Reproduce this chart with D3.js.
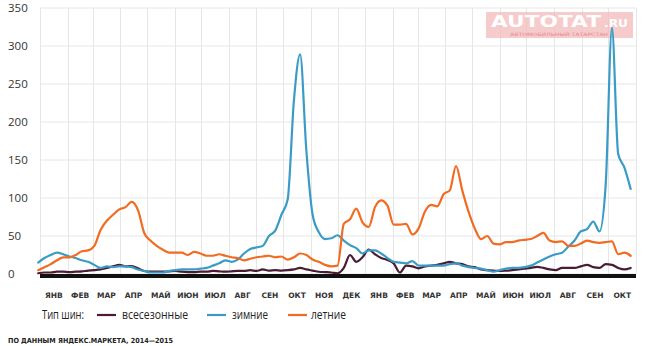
<!DOCTYPE html>
<html><head><meta charset="utf-8">
<script src="https://cdn.jsdelivr.net/npm/d3@7"></script>
<style>
html,body{margin:0;padding:0;background:#fff;}
svg{display:block;}
</style></head>
<body>
<svg id="chart" width="646" height="346"></svg>
<script>
// ---------- data ----------
const monthLabels = ["ЯНВ","ФЕВ","МАР","АПР","МАЙ","ИЮН","ИЮЛ","АВГ","СЕН","ОКТ","НОЯ","ДЕК",
                     "ЯНВ","ФЕВ","МАР","АПР","МАЙ","ИЮН","ИЮЛ","АВГ","СЕН","ОКТ"];
const yTicks = [0,50,100,150,200,250,300,350];
const seriesNames = ["всесезонные","зимние","летние"];
const seriesColors = ["#4b1a33","#3a9cc6","#f26b21"];
const firstWeek = new Date(2013, 11, 30);
const weekCount = 96;

const allSeason = [1,2,2,3,3,2.5,3,3.5,4.4,5,6,8,10,12,10,10.5,7.5,4,3,3,
  3,3.5,4,3,2.5,2.5,3,3,4,3.5,3,3.5,4,4,5,4,6,4.5,5,4.5,
  5,6,8,6,4.5,3,2.5,2,1,8,25,16,22,32,26,21,18.5,14,2,11,
  10,7.5,10,11,12,14,16,14,13,10,9,6,5,4.4,4,4.4,5,6,7,8,
  9.5,8,6,5,8,8,8,10,12,9,8,13,12,8,6,8];
const winter = [15,21,25,28,26,23,21,18,16,12,8,10,9,10,10,9,6,4,2,2,
  2,4,5,6,6,6,7,8,11,14,18,16,19,27,33,35,37,50,57,78,
  98,228,289,162,78,55,46,47,51,44,38,34,27,31,31,27,21,16,15,14,
  17,11,11,11,11,11,13,14,11,9,8,7,5,3,5,7,8,8,9,11,
  15,19,23,26,28,36,44,56,59,69,56,118,324,158,140,112];
const summer = [5,9,13,18,22,22,25,30,31,37,58,70,78,85,88,95,84,54,44,37,
  32,28,28,28,25,29,27,24,24,26,24,22,21,18,20,22,23,24,22,23,
  19,22,27,25,19,16,12,10,11,66,72,86,68,62,88,97,90,65,65,66,
  52,60,82,91,89,105,110,142,110,82,60,46,50,40,39,42,42,44,45,46,
  50,54,44,42,43,37,37,40,44,42,41,42,43,26,28,24];
const seriesValues = [allSeason, winter, summer];

// ---------- setup ----------
const svg = d3.select("#chart");
const x0 = 40, x1 = 636, yTop = 8, yBot = 274;
const dates = d3.range(weekCount).map(i => d3.timeDay.offset(firstWeek, 7 * i));
const x = d3.scaleTime().domain([new Date(2014,0,1), new Date(2015,10,1)]).range([x0, x1]);
const y = d3.scaleLinear().domain([0, 350]).range([yBot, yTop]);
const monthStarts = d3.timeMonth.range(new Date(2014,0,1), new Date(2015,10,2));

// grid
const grid = svg.append("g");
grid.selectAll("line.h").data(yTicks).join("line")
  .attr("x1", x0).attr("x2", x1)
  .attr("y1", d => y(d)).attr("y2", d => y(d))
  .attr("stroke", "#e6e6e6").attr("stroke-width", 1);
grid.selectAll("line.v").data(monthStarts).join("line")
  .attr("x1", d => Math.round(x(d)) + 0.5).attr("x2", d => Math.round(x(d)) + 0.5)
  .attr("y1", yTop).attr("y2", yBot)
  .attr("stroke", "#e6e6e6").attr("stroke-width", 1);

// y labels
svg.append("g").selectAll("text").data(yTicks).join("text")
  .attr("x", 8).attr("y", d => y(d) + 1)
  .attr("dominant-baseline", "middle")
  .attr("font-family", "'Open Sans', 'DejaVu Sans', sans-serif")
  .attr("font-size", 11.5).attr("fill", "#333")
  .text(d => d);

// watermark
const wm = svg.append("g");
wm.append("rect").attr("x", 486).attr("y", 12).attr("width", 147).attr("height", 26)
  .attr("fill", "#f3b9b9").attr("opacity", 0.75);
wm.append("text").attr("x", 491).attr("y", 27)
  .attr("font-family", "'DejaVu Sans', sans-serif").attr("font-weight", "bold")
  .attr("font-size", 15).attr("fill", "#fff")
  .attr("textLength", 110).attr("lengthAdjust", "spacingAndGlyphs")
  .text("AUTOTAT");
wm.append("text").attr("x", 604).attr("y", 27)
  .attr("font-family", "'DejaVu Sans', sans-serif").attr("font-weight", "bold")
  .attr("font-size", 10).attr("fill", "#fff")
  .attr("textLength", 24).attr("lengthAdjust", "spacingAndGlyphs")
  .text(".RU");
wm.append("text").attr("x", 559).attr("y", 35.5).attr("text-anchor", "middle")
  .attr("font-family", "'DejaVu Sans', sans-serif")
  .attr("font-size", 4.5).attr("fill", "#e58a8a")
  .attr("textLength", 98).attr("lengthAdjust", "spacingAndGlyphs")
  .text("АВТОМОБИЛЬНЫЙ ТАТАРСТАН");

// baseline
svg.append("line").attr("x1", x0).attr("x2", x1).attr("y1", yBot + 2).attr("y2", yBot + 2)
  .attr("stroke", "#111").attr("stroke-width", 4);

// lines
const line = d3.line().x((d, i) => x(dates[i])).y(d => y(d)).curve(d3.curveMonotoneX);
svg.append("g").selectAll("path").data(seriesValues).join("path")
  .attr("d", d => line(d))
  .attr("fill", "none")
  .attr("stroke", (d, i) => seriesColors[i])
  .attr("stroke-width", 2.2)
  .attr("stroke-linejoin", "round").attr("stroke-linecap", "round");

// month labels
const mids = monthStarts.slice(0, monthLabels.length).map(d => new Date((+d + +d3.timeMonth.offset(d, 1)) / 2));
svg.append("g").selectAll("text").data(monthLabels).join("text")
  .attr("x", (d, i) => x(mids[i])).attr("y", 298)
  .attr("text-anchor", "middle")
  .attr("font-family", "'DejaVu Sans', sans-serif").attr("font-weight", "bold")
  .attr("font-size", 7.5).attr("fill", "#333")
  .text(d => d);

// legend
const lg = svg.append("g").attr("font-family", "'Open Sans', 'DejaVu Sans', sans-serif")
  .attr("font-size", 12).attr("fill", "#222");
lg.append("text").attr("x", 42).attr("y", 319)
  .attr("textLength", 42).attr("lengthAdjust", "spacingAndGlyphs").text("Тип шин:");
const legendPos = [{lx: 97, tx: 122, w: 66}, {lx: 207, tx: 232, w: 36}, {lx: 288, tx: 311, w: 35}];
seriesNames.forEach((n, i) => {
  lg.append("line").attr("x1", legendPos[i].lx).attr("x2", legendPos[i].lx + 19)
    .attr("y1", 315).attr("y2", 315).attr("stroke", seriesColors[i]).attr("stroke-width", 2.2);
  lg.append("text").attr("x", legendPos[i].tx).attr("y", 319)
    .attr("textLength", legendPos[i].w).attr("lengthAdjust", "spacingAndGlyphs").text(n);
});

// source
svg.append("text").attr("x", 8).attr("y", 343)
  .attr("font-family", "'DejaVu Sans', sans-serif").attr("font-weight", "bold")
  .attr("font-size", 7).attr("fill", "#222")
  .attr("textLength", 165).attr("lengthAdjust", "spacingAndGlyphs")
  .text("ПО ДАННЫМ ЯНДЕКС.МАРКЕТА, 2014—2015");
</script>
</body></html>
